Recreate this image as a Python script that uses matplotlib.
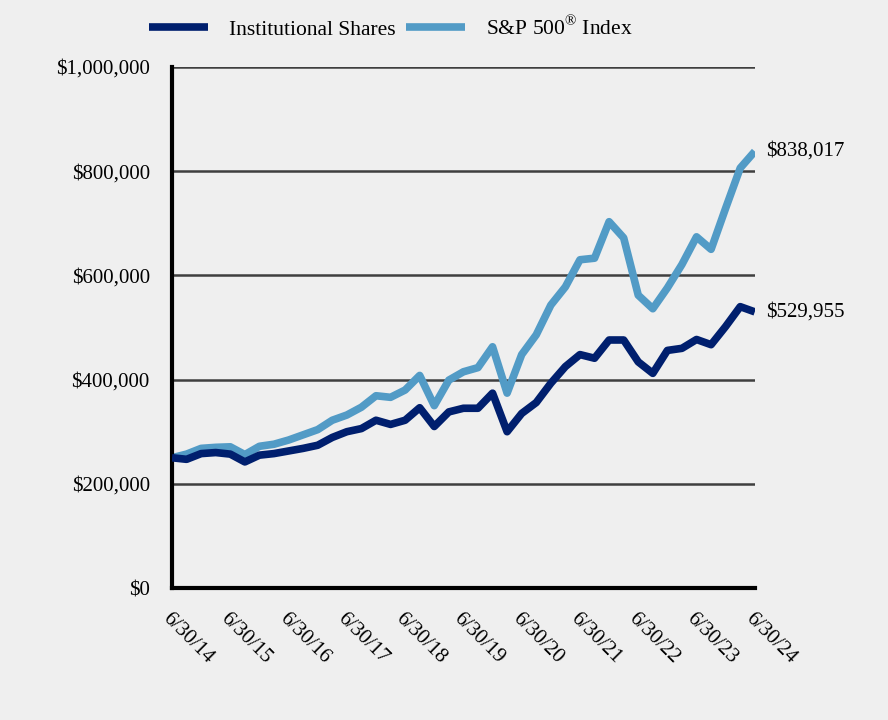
import numpy as np
import matplotlib.pyplot as plt

plt.rcParams['font.family'] = ['Liberation Serif', 'DejaVu Serif']
plt.rcParams['mathtext.fontset'] = 'custom'
plt.rcParams['mathtext.rm'] = 'Liberation Serif'

# quarterly values, 6/30/14 .. 6/30/24
institutional = [250000, 247000, 258000, 260000, 257000, 242000, 255000, 258000,
                 263000, 268000, 274000, 289000, 300000, 306000, 322000, 314000,
                 322000, 346000, 310000, 338000, 345000, 345000, 374000, 300000,
                 335000, 356000, 393000, 425000, 448000, 441000, 476000, 476000,
                 434000, 412000, 456000, 460000, 477000, 467000, 502000, 540000,
                 529955]
sp500 = [250000, 257000, 268000, 270000, 271000, 256000, 272000, 276000,
         284000, 294000, 304000, 322000, 332000, 347000, 369000, 366000,
         380000, 408000, 350000, 399000, 415000, 423000, 463000, 374000,
         448000, 486000, 543000, 578000, 630000, 633000, 703000, 672000,
         562000, 536000, 576000, 621000, 674000, 650000, 729000, 806000,
         838017]
year_labels = ['6/30/14', '6/30/15', '6/30/16', '6/30/17', '6/30/18', '6/30/19',
               '6/30/20', '6/30/21', '6/30/22', '6/30/23', '6/30/24']

bg = '#efefef'
dark = '#001f6e'
light = '#529bc6'
fs = 15

fig = plt.figure(figsize=(8.88, 7.2), dpi=100, facecolor=bg)
ax = fig.add_axes([0.1937, 0.1833, 0.6563, 0.7237], facecolor=bg)

x = np.arange(len(institutional))
ax.plot(x, institutional, color=dark, lw=5.5, solid_capstyle='butt',
        label='Institutional Shares', zorder=3)
ax.plot(x, sp500, color=light, lw=5.5, solid_capstyle='butt',
        label=r'S&P 500$^{\mathrm{®}}$ Index', zorder=2)

ax.set_xlim(0, len(x) - 1)
ax.set_ylim(0, 1000000)
ax.set_yticks(np.arange(0, 1000001, 200000))
ax.set_yticklabels(['${:,.0f}'.format(v) for v in np.arange(0, 1000001, 200000)])
ax.set_xticks(np.arange(0, len(x), 4))
ax.set_xticklabels(year_labels, rotation=-45, ha='left', va='top', rotation_mode='anchor')
ax.tick_params(axis='both', length=0, labelsize=fs, colors='black')
ax.tick_params(axis='x', pad=15)
ax.tick_params(axis='y', pad=16)

ax.grid(axis='y', color='#3f3f3f', lw=1.8)
ax.set_axisbelow(True)
for s in ['top', 'right']:
    ax.spines[s].set_visible(False)
for s in ['left', 'bottom']:
    ax.spines[s].set_linewidth(3)
    ax.spines[s].set_color('black')

ax.annotate('${:,.0f}'.format(sp500[-1]), (x[-1], sp500[-1]), xytext=(8, 0),
            textcoords='offset points', va='center', ha='left', fontsize=fs,
            annotation_clip=False)
ax.annotate('${:,.0f}'.format(institutional[-1]), (x[-1], institutional[-1]), xytext=(8, 0),
            textcoords='offset points', va='center', ha='left', fontsize=fs,
            annotation_clip=False)

ax.legend(loc='lower left', bbox_to_anchor=(-0.072, 1.015), ncol=2, frameon=False,
          fontsize=15.5, handlelength=2.7, columnspacing=0.5, handletextpad=1.0)

fig.savefig('out.png', dpi=100, facecolor=bg)
